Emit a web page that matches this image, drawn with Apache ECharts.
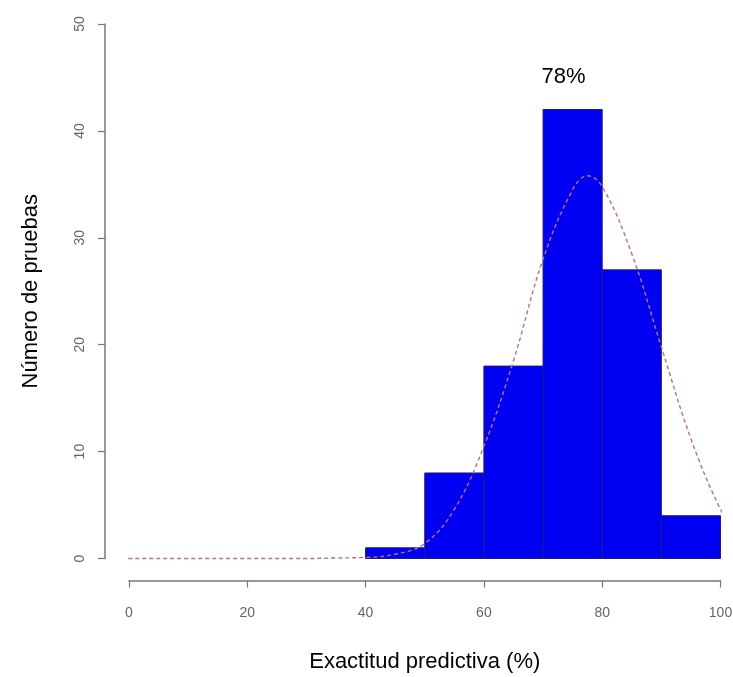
<!DOCTYPE html>
<html>
<head>
<meta charset="utf-8">
<script src="https://cdn.jsdelivr.net/npm/echarts@6/dist/echarts.min.js"></script>
<style>html,body{margin:0;padding:0;background:#fff;}#c{width:733px;height:677px;}</style>
</head>
<body>
<div id="c"></div>
<script>
// Histogram bins (start, end) and counts
var binStarts = [40, 50, 60, 70, 80, 90];
var binEnds   = [50, 60, 70, 80, 90, 100];
var counts    = [1, 8, 18, 42, 27, 4];
// Fitted curve
var curveX = [-2.5, 0, 10, 20, 30, 35, 40, 45, 50, 55, 60, 65, 70, 75, 77.5, 80, 85, 90, 95, 100, 102];
var curveY = [0, 0, 0, 0, 0, 0.05, 0.1, 0.4, 1.4, 4.6, 10.5, 18.5, 28, 34.5, 35.8, 34.8, 28.5, 19.8, 11.2, 4.6, 3.2];
var xTicks = [0, 20, 40, 60, 80, 100];
var yTicks = [0, 10, 20, 30, 40, 50];
var peakLabel = '78%';
var xTitle = 'Exactitud predictiva (%)';
var yTitle = 'Número de pruebas';

var histData = binStarts.map(function (s, i) { return [s, binEnds[i], counts[i]]; });
var curveData = curveX.map(function (x, i) { return [x, curveY[i]]; });
var maxIdx = counts.indexOf(Math.max.apply(null, counts));

var chart = echarts.init(document.getElementById('c'));
var font = 'Liberation Sans, Arial, sans-serif';
chart.setOption({
  animation: false,
  backgroundColor: '#fff',
  grid: { left: 129, right: 12.5, top: 24, bottom: 118.5, outerBoundsMode: 'none', containLabel: false },
  xAxis: {
    type: 'value', min: 0, max: 100, interval: 20, offset: 22,
    axisLine: { show: true, onZero: false, lineStyle: { color: '#777', width: 1.5 } },
    axisTick: { show: true, length: 7, lineStyle: { color: '#777', width: 1.2 } },
    axisLabel: { color: '#666', fontSize: 14, fontFamily: font, margin: 26,
      formatter: function (v) { return xTicks.indexOf(v) >= 0 ? String(v) : ''; } },
    splitLine: { show: false },
    name: xTitle, nameLocation: 'middle', nameGap: 70,
    nameTextStyle: { color: '#000', fontSize: 22, fontFamily: font }
  },
  yAxis: {
    type: 'value', min: 0, max: 50, interval: 10, offset: 24,
    axisLine: { show: true, onZero: false, lineStyle: { color: '#777', width: 1.5 } },
    axisTick: { show: true, length: 7, lineStyle: { color: '#777', width: 1.2 } },
    axisLabel: { color: '#666', fontSize: 14, fontFamily: font, margin: 18, rotate: 90,
      formatter: function (v) { return yTicks.indexOf(v) >= 0 ? String(v) : ''; } },
    splitLine: { show: false },
    name: yTitle, nameLocation: 'middle', nameGap: 63, nameRotate: 90,
    nameTextStyle: { color: '#000', fontSize: 22, fontFamily: font }
  },
  series: [
    {
      type: 'custom',
      data: histData,
      renderItem: function (params, api) {
        var p0 = api.coord([api.value(0), 0]);
        var p1 = api.coord([api.value(1), api.value(2)]);
        var children = [{
          type: 'rect',
          shape: { x: p0[0], y: p1[1], width: p1[0] - p0[0], height: p0[1] - p1[1] },
          style: { fill: '#0000f2', stroke: '#1c1c7a', lineWidth: 1 }
        }];
        if (params.dataIndex === maxIdx) {
          children.push({
            type: 'text',
            style: { text: peakLabel, x: (p0[0] + p1[0]) / 2 - 9, y: p1[1] - 22,
              textAlign: 'center', textVerticalAlign: 'bottom',
              fill: '#000', fontSize: 22, fontFamily: font }
          });
        }
        return { type: 'group', children: children };
      },
      z: 2
    },
    {
      type: 'line',
      data: curveData,
      smooth: 0.4,
      showSymbol: false,
      clip: false,
      lineStyle: { color: '#c07070', width: 1.4, type: [4, 3] },
      z: 3
    }
  ]
});
</script>
</body>
</html>
